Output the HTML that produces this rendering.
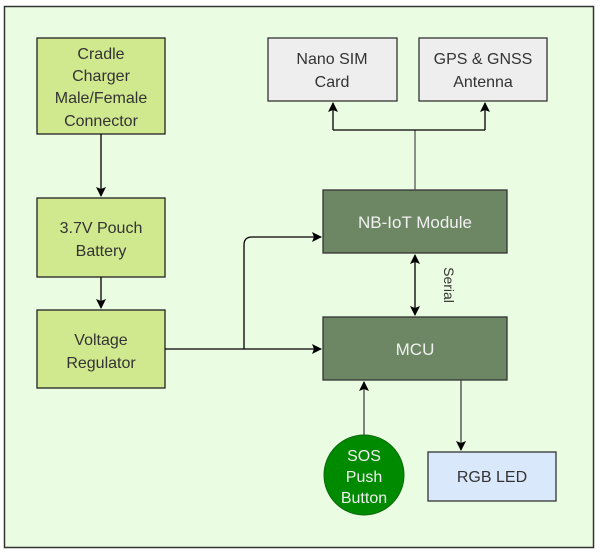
<!DOCTYPE html>
<html><head><style>
body{margin:0;background:#fff;}
svg text{font-family:"Liberation Sans",Arial,sans-serif;}
</style></head><body>
<svg width="600" height="554" viewBox="0 0 600 554" xmlns="http://www.w3.org/2000/svg">
<defs><marker id="a" markerWidth="10" markerHeight="10" refX="9" refY="5" orient="auto" markerUnits="userSpaceOnUse"><path d="M0,0 L10,5 L0,10 L2,5 Z" fill="#000"/></marker></defs>
<rect x="4.5" y="6.5" width="589" height="541" fill="#eafde2" stroke="#333" stroke-width="1.5"/>
<g stroke="#222" stroke-width="1.3" fill="#d0e88e">
<rect x="37" y="38" width="128" height="96"/>
<rect x="37" y="198" width="128" height="79"/>
<rect x="37" y="310" width="128" height="78"/>
</g>
<g stroke="#333" stroke-width="1.3" fill="#eeeeee">
<rect x="268" y="38" width="129" height="63"/>
<rect x="419" y="38" width="128" height="63"/>
</g>
<g stroke="#333" stroke-width="1.3" fill="#6d8764">
<rect x="323" y="190" width="184" height="63"/>
<rect x="323" y="317" width="184" height="63"/>
</g>
<rect x="428" y="452" width="128" height="49" fill="#dae8fc" stroke="#333" stroke-width="1.3"/>
<circle cx="364" cy="475" r="40" fill="#008a00" stroke="#0a6a0a"/>
<g stroke="#000" stroke-width="1.3" fill="none">
<line x1="101" y1="134" x2="101" y2="196" marker-end="url(#a)"/>
<line x1="101" y1="277" x2="101" y2="308" marker-end="url(#a)"/>
<line x1="165" y1="349" x2="321" y2="349" marker-end="url(#a)"/>
<path d="M244 349 V245 Q244 237 252 237 H321" marker-end="url(#a)"/>
<line x1="415" y1="190" x2="415" y2="130" stroke="#555"/>
<line x1="333" y1="130" x2="485" y2="130"/>
<line x1="333" y1="130" x2="333" y2="103" marker-end="url(#a)"/>
<line x1="485" y1="130" x2="485" y2="103" marker-end="url(#a)"/>
<line x1="415" y1="285" x2="415" y2="255" marker-end="url(#a)"/>
<line x1="415" y1="285" x2="415" y2="315" marker-end="url(#a)"/>
<line x1="461" y1="380" x2="461" y2="450" stroke="#444" marker-end="url(#a)"/>
<line x1="364" y1="435" x2="364" y2="382" stroke="#444" marker-end="url(#a)"/>
</g>
<g font-size="16" fill="#333" text-anchor="middle">
<text x="101" y="59">Cradle</text>
<text x="101" y="81">Charger</text>
<text x="101" y="103">Male/Female</text>
<text x="101" y="126">Connector</text>
<text x="101" y="233">3.7V Pouch</text>
<text x="101" y="256">Battery</text>
<text x="101" y="345">Voltage</text>
<text x="101" y="368">Regulator</text>
<text x="332" y="64">Nano SIM</text>
<text x="332" y="87">Card</text>
<text x="483" y="64">GPS &amp; GNSS</text>
<text x="483" y="87">Antenna</text>
<text x="492" y="482">RGB LED</text>
</g>
<g fill="#f0f0f0" text-anchor="middle">
<text x="415" y="228" font-size="17">NB-IoT Module</text>
<text x="415" y="355" font-size="17">MCU</text>
<text x="364" y="461" font-size="16">SOS</text>
<text x="364" y="482" font-size="16">Push</text>
<text x="364" y="503" font-size="16">Button</text>
</g>
<text x="0" y="0" font-size="14" fill="#333" text-anchor="middle" transform="translate(444,285) rotate(90)">Serial</text>
</svg>
</body></html>
